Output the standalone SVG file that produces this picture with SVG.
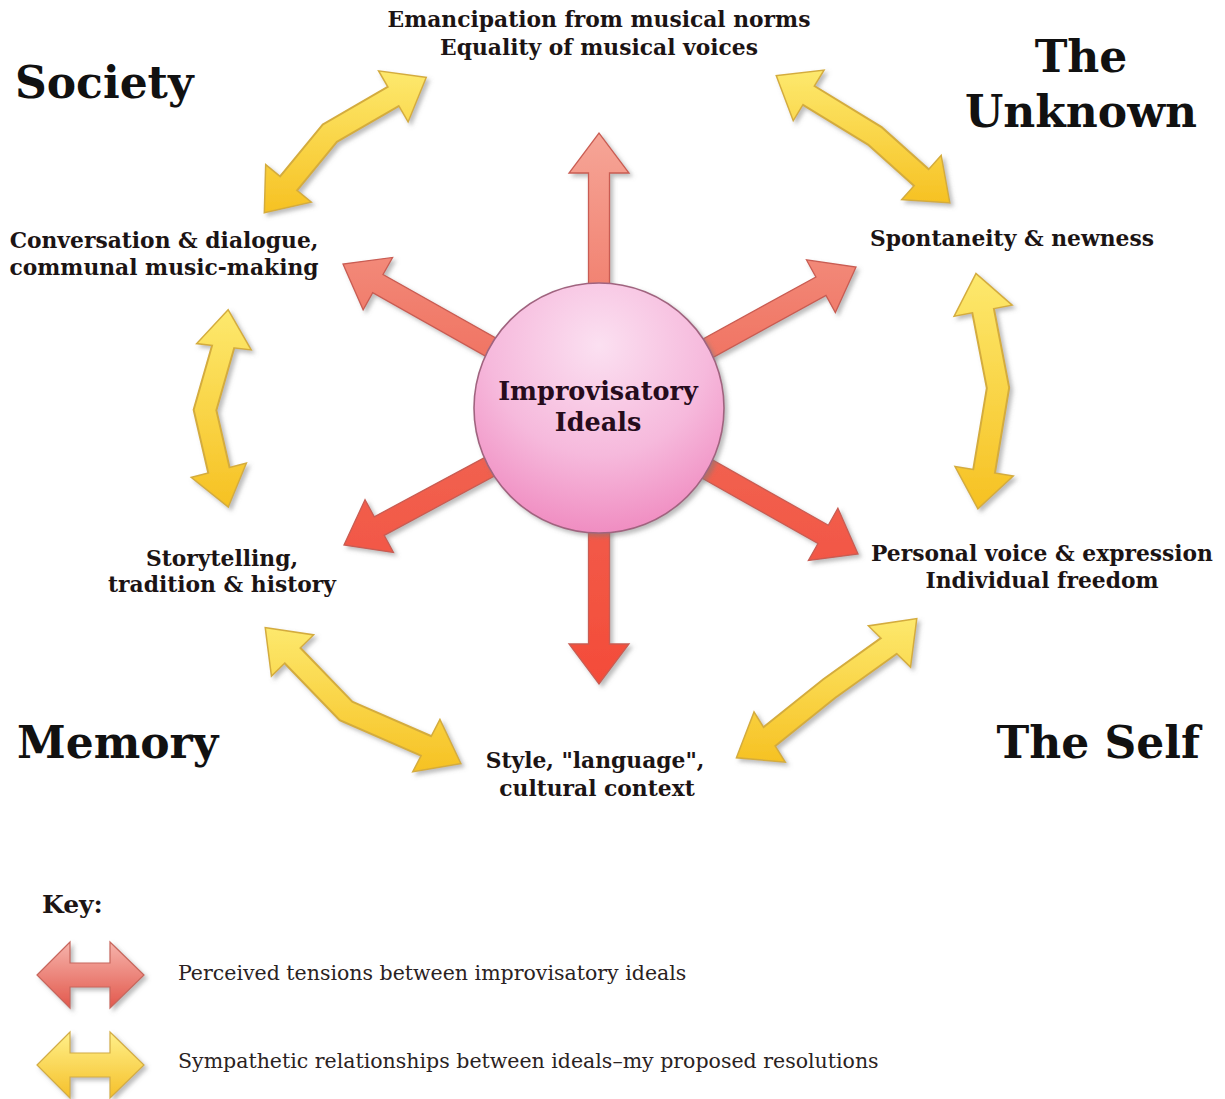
<svg xmlns="http://www.w3.org/2000/svg" width="1225" height="1099" viewBox="0 0 1225 1099">
  <defs>
    <style>
      .lbl{font-family:"DejaVu Serif","Liberation Serif",serif;font-weight:bold;font-size:21.8px;fill:#1c1414;text-anchor:middle}
      .hub{font-family:"DejaVu Serif","Liberation Serif",serif;font-weight:bold;font-size:25.5px;fill:#260c1c;text-anchor:middle}
      .title{font-family:"DejaVu Serif","Liberation Serif",serif;font-weight:bold;font-size:44px;fill:#111111}
      .keyhead{font-family:"DejaVu Serif","Liberation Serif",serif;font-weight:bold;font-size:25px;fill:#1c1414}
      .keytxt{font-family:"DejaVu Serif","Liberation Serif",serif;font-size:20.5px;fill:#2a2222}
      .yout{fill:none;stroke:#d4ac3e;stroke-width:24;stroke-linejoin:miter;stroke-miterlimit:10}
      .yhead-out{fill:#d4ac3e;stroke:#d4ac3e;stroke-width:3;stroke-linejoin:miter}
      .yfill{fill:none;stroke-width:20;stroke-linejoin:miter;stroke-miterlimit:10}
      .red{fill:url(#gRed);stroke:#c95c52;stroke-width:1.3;stroke-linejoin:miter}
    </style>

    <filter id="shadow" x="-20%" y="-20%" width="150%" height="150%">
      <feDropShadow dx="3" dy="3" stdDeviation="2" flood-color="#7a7a7a" flood-opacity="0.5"/>
    </filter>

    <!-- red spokes: lighter at the top of the picture, stronger red below -->
    <linearGradient id="gRed" gradientUnits="userSpaceOnUse" x1="0" y1="130" x2="0" y2="690">
      <stop offset="0" stop-color="#f6a698"/>
      <stop offset="0.3" stop-color="#f1806f"/>
      <stop offset="0.6" stop-color="#f1604f"/>
      <stop offset="1" stop-color="#f44b38"/>
    </linearGradient>

    <radialGradient id="gHub" cx="0.5" cy="0.25" r="0.8">
      <stop offset="0" stop-color="#fbe0f1"/>
      <stop offset="0.55" stop-color="#f6b9dc"/>
      <stop offset="1" stop-color="#ef86bd"/>
    </radialGradient>

    <!-- yellow double arrows, one gradient per arrow span -->
    <linearGradient id="gy1" gradientUnits="userSpaceOnUse" x1="0" y1="70" x2="0" y2="214">
      <stop offset="0" stop-color="#fde96e"/><stop offset="1" stop-color="#f6c122"/>
    </linearGradient>
    <linearGradient id="gy2" gradientUnits="userSpaceOnUse" x1="0" y1="70" x2="0" y2="204">
      <stop offset="0" stop-color="#fde96e"/><stop offset="1" stop-color="#f6c122"/>
    </linearGradient>
    <linearGradient id="gy3" gradientUnits="userSpaceOnUse" x1="0" y1="272" x2="0" y2="510">
      <stop offset="0" stop-color="#fde96e"/><stop offset="1" stop-color="#f6c122"/>
    </linearGradient>
    <linearGradient id="gy4" gradientUnits="userSpaceOnUse" x1="0" y1="309" x2="0" y2="508">
      <stop offset="0" stop-color="#fde96e"/><stop offset="1" stop-color="#f6c122"/>
    </linearGradient>
    <linearGradient id="gy5" gradientUnits="userSpaceOnUse" x1="0" y1="626" x2="0" y2="773">
      <stop offset="0" stop-color="#fde96e"/><stop offset="1" stop-color="#f6c122"/>
    </linearGradient>
    <linearGradient id="gy6" gradientUnits="userSpaceOnUse" x1="0" y1="617" x2="0" y2="764">
      <stop offset="0" stop-color="#fde96e"/><stop offset="1" stop-color="#f6c122"/>
    </linearGradient>

    <linearGradient id="gKeyRed" x1="0" y1="0" x2="0" y2="1">
      <stop offset="0" stop-color="#f6b4ac"/><stop offset="1" stop-color="#e2584c"/>
    </linearGradient>
    <linearGradient id="gKeyYel" x1="0" y1="0" x2="0" y2="1">
      <stop offset="0" stop-color="#fff08a"/><stop offset="1" stop-color="#f5c02a"/>
    </linearGradient>
  </defs>

  <rect x="0" y="0" width="1225" height="1099" fill="#ffffff"/>

  <!-- connectors -->
  <g id="connectors">
    <!-- tensions radiating from the hub -->
    <g id="tensions" filter="url(#shadow)">
      <polygon class="red" points="588.5,308 588.5,173 569,173 599,133 629,173 609.5,173 609.5,308"/>
      <polygon class="red" points="588.5,508 588.5,644 569,644 599,684 629,644 609.5,644 609.5,508"/>
      <polygon class="red" points="516.99,349.82 383.01,274.46 392.57,257.46 343,264 363.15,309.76 372.71,292.76 506.69,368.12"/>
      <polygon class="red" points="691.73,369.10 825.98,295.45 835.36,312.54 856,267 806.50,259.94 815.88,277.03 681.63,350.68"/>
      <polygon class="red" points="505.95,446.07 374.26,516.82 365.03,499.65 344,545 393.43,552.49 384.20,535.32 515.89,464.57"/>
      <polygon class="red" points="680.96,466.26 817.99,543.51 808.42,560.50 858,554 837.88,508.22 828.31,525.21 691.28,447.96"/>
    </g>

    <!-- sympathetic relationships around the ring -->
    <g id="link-conversation-emancipation" filter="url(#shadow)">
      <path class="yout" d="M285.5,187.1 L330,133 L397.5,94"/>
      <polygon class="yhead-out" points="265.1,211.8 309.6,201.8 266.4,166.2"/>
      <polygon class="yhead-out" points="425.2,78 408,120.2 380,71.8"/>
      <path class="yfill" stroke="url(#gy1)" d="M285.5,187.1 L330,133 L397.5,94"/>
      <polygon fill="url(#gy1)" points="265.1,211.8 309.6,201.8 266.4,166.2"/>
      <polygon fill="url(#gy1)" points="425.2,78 408,120.2 380,71.8"/>
    </g>

    <g id="link-emancipation-spontaneity" filter="url(#shadow)">
      <path class="yout" d="M804.6,92.9 L875,136 L925,180.7"/>
      <polygon class="yhead-out" points="777.3,76.2 793.4,118.9 822.6,71.1"/>
      <polygon class="yhead-out" points="948.9,202 903.3,198.9 940.7,157.1"/>
      <path class="yfill" stroke="url(#gy2)" d="M804.6,92.9 L875,136 L925,180.7"/>
      <polygon fill="url(#gy2)" points="777.3,76.2 793.4,118.9 822.6,71.1"/>
      <polygon fill="url(#gy2)" points="948.9,202 903.3,198.9 940.7,157.1"/>
    </g>

    <g id="link-spontaneity-personal" filter="url(#shadow)">
      <path class="yout" d="M982.2,306.1 L998,388 L983.3,475.9"/>
      <polygon class="yhead-out" points="976.2,274.7 955.5,315.3 1010.5,304.7"/>
      <polygon class="yhead-out" points="978.1,507.5 956.4,467.4 1011.6,476.6"/>
      <path class="yfill" stroke="url(#gy3)" d="M982.2,306.1 L998,388 L983.3,475.9"/>
      <polygon fill="url(#gy3)" points="976.2,274.7 955.5,315.3 1010.5,304.7"/>
      <polygon fill="url(#gy3)" points="978.1,507.5 956.4,467.4 1011.6,476.6"/>
    </g>

    <g id="link-conversation-storytelling" filter="url(#shadow)">
      <path class="yout" d="M224.5,342 L205,410 L220,474.9"/>
      <polygon class="yhead-out" points="228,311 249.8,349 198.2,343"/>
      <polygon class="yhead-out" points="228,505.8 245.1,464.3 192.9,477.8"/>
      <path class="yfill" stroke="url(#gy4)" d="M224.5,342 L205,410 L220,474.9"/>
      <polygon fill="url(#gy4)" points="228,311 249.8,349 198.2,343"/>
      <polygon fill="url(#gy4)" points="228,505.8 245.1,464.3 192.9,477.8"/>
    </g>

    <g id="link-storytelling-style" filter="url(#shadow)">
      <path class="yout" d="M289.2,652.1 L346,711 L430.5,747.8"/>
      <polygon class="yhead-out" points="266.1,628.6 312,635.4 272,674.6"/>
      <polygon class="yhead-out" points="459.8,763.1 414.1,770.8 439.9,721.2"/>
      <path class="yfill" stroke="url(#gy5)" d="M289.2,652.1 L346,711 L430.5,747.8"/>
      <polygon fill="url(#gy5)" points="266.1,628.6 312,635.4 272,674.6"/>
      <polygon fill="url(#gy5)" points="459.8,763.1 414.1,770.8 439.9,721.2"/>
    </g>

    <g id="link-personal-style" filter="url(#shadow)">
      <path class="yout" d="M892.8,643.1 L830,688 L765.6,739.6"/>
      <polygon class="yhead-out" points="915.9,619.6 910,665.6 870,626.4"/>
      <polygon class="yhead-out" points="737.5,757.1 754.2,713.7 783.8,761.3"/>
      <path class="yfill" stroke="url(#gy6)" d="M892.8,643.1 L830,688 L765.6,739.6"/>
      <polygon fill="url(#gy6)" points="915.9,619.6 910,665.6 870,626.4"/>
      <polygon fill="url(#gy6)" points="737.5,757.1 754.2,713.7 783.8,761.3"/>
    </g>
  </g>

  <!-- hub -->
  <g id="hub">
    <circle cx="599" cy="408" r="125" fill="url(#gHub)" stroke="#a0647f" stroke-width="1.6" filter="url(#shadow)"/>
    <text class="hub" x="598" y="400">Improvisatory</text>
    <text class="hub" x="598" y="431">Ideals</text>
  </g>

  <!-- ideals around the ring -->
  <g id="node-emancipation">
    <text class="lbl" x="599" y="27">Emancipation from musical norms</text>
    <text class="lbl" x="599" y="55">Equality of musical voices</text>
  </g>
  <g id="node-conversation">
    <text class="lbl" x="164" y="248">Conversation &amp; dialogue,</text>
    <text class="lbl" x="164" y="275">communal music-making</text>
  </g>
  <g id="node-spontaneity">
    <text class="lbl" x="1012" y="246">Spontaneity &amp; newness</text>
  </g>
  <g id="node-storytelling">
    <text class="lbl" x="222" y="566">Storytelling,</text>
    <text class="lbl" x="222" y="592">tradition &amp; history</text>
  </g>
  <g id="node-personal">
    <text class="lbl" x="1042" y="561">Personal voice &amp; expression</text>
    <text class="lbl" x="1042" y="588">Individual freedom</text>
  </g>
  <g id="node-style">
    <text class="lbl" x="595" y="768">Style, "language",</text>
    <text class="lbl" x="597" y="796">cultural context</text>
  </g>

  <!-- quadrant titles -->
  <g id="titles">
    <text class="title" x="15" y="98">Society</text>
    <text class="title" x="1081" y="72" text-anchor="middle">The</text>
    <text class="title" x="1081" y="127" text-anchor="middle">Unknown</text>
    <text class="title" x="17" y="758">Memory</text>
    <text class="title" x="1200" y="758" text-anchor="end">The Self</text>
  </g>

  <!-- key -->
  <g id="legend">
    <text class="keyhead" x="42" y="913">Key:</text>
    <g filter="url(#shadow)">
      <polygon points="37,975 70,942 70,963 110,963 110,942 144,975 110,1008 110,987 70,987 70,1008" fill="url(#gKeyRed)" stroke="#c7665c" stroke-width="1.2"/>
      <polygon points="37,1065 70,1032 70,1053 110,1053 110,1032 144,1065 110,1098 110,1077 70,1077 70,1098" fill="url(#gKeyYel)" stroke="#d2ac44" stroke-width="1.2"/>
    </g>
    <text class="keytxt" x="178" y="980">Perceived tensions between improvisatory ideals</text>
    <text class="keytxt" x="178" y="1068">Sympathetic relationships between ideals–my proposed resolutions</text>
  </g>
</svg>
